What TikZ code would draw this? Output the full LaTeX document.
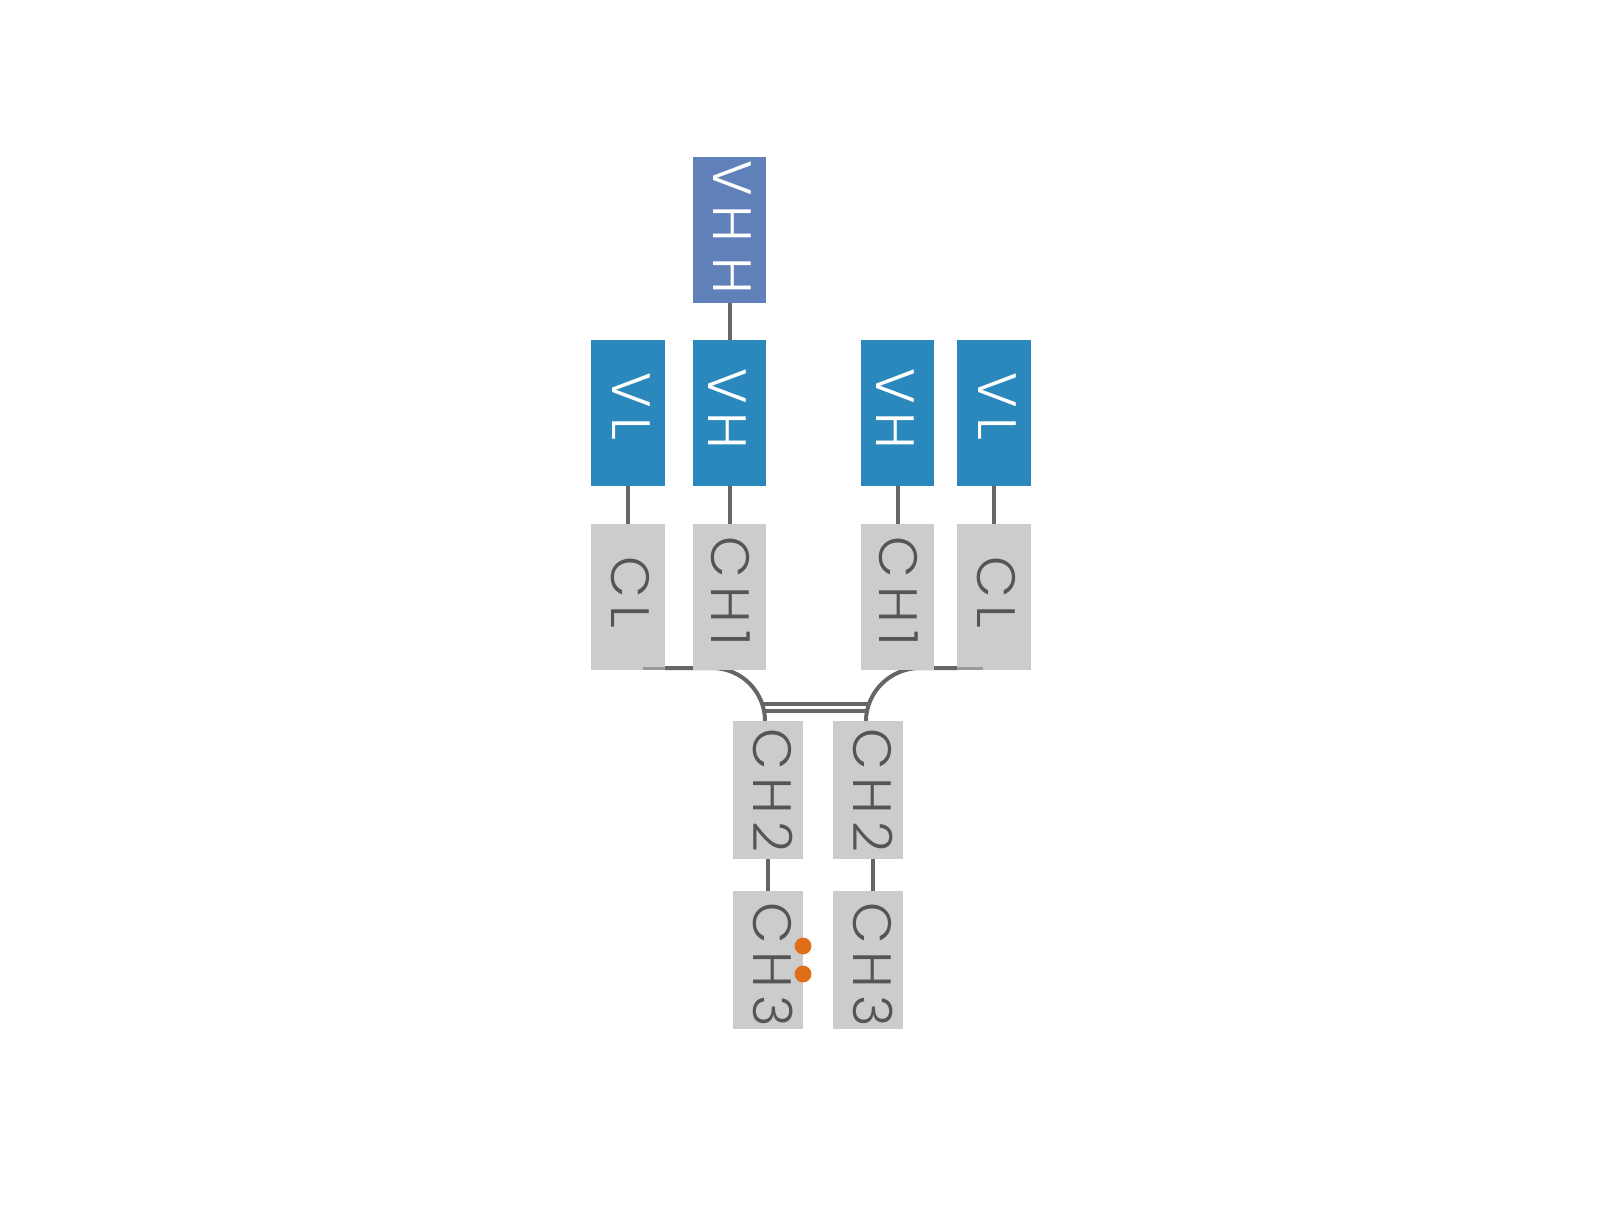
\documentclass[tikz,border=0pt]{standalone}
\usepackage{fontspec}
\newfontfamily\boxfont{Poppins Light}
\definecolor{vhhblue}{HTML}{5F80B8}
\definecolor{vblue}{HTML}{2A88BC}
\definecolor{cgray}{HTML}{CCCCCC}
\definecolor{tgray}{HTML}{555555}
\definecolor{lgray}{HTML}{666666}
\definecolor{llgray}{HTML}{9A9A9A}
\definecolor{dotor}{HTML}{E06E16}
\tikzset{
  bigbox/.style={inner sep=0pt, minimum width=74pt, minimum height=146pt},
  smallbox/.style={inner sep=0pt, minimum width=70pt, minimum height=138pt, fill=cgray},
  lbl/.style={inner sep=0pt, rotate=-90, font=\boxfont\fontsize{54}{54}\selectfont, text height=37pt, text depth=0pt},
  conn/.style={draw=lgray, line width=4pt},
  connlight/.style={draw=llgray, line width=3pt},
}
\newcommand{\lsp}{\kern 9pt}
\newcommand{\csp}{\kern 7.5pt}
\begin{document}
\begin{tikzpicture}[x=1pt,y=-1pt]
\useasboundingbox[fill=white] (0,0) rectangle (1622,1205);
% named points for the hinge
\coordinate (hL0) at (665,668);
\coordinate (hL1) at (712,668);
\coordinate (hR0) at (957,668);
\coordinate (hR1) at (920,668);
\coordinate (hL2) at (765,721);
\coordinate (hR2) at (866,721);
% hinge connections (behind boxes)
\draw[conn] (hL0) -- (hL1) .. controls (741.8,668) and (765,692.2) .. (hL2);
\draw[conn] (hR0) -- (hR1) .. controls (890.2,668) and (866,692.2) .. (hR2);
% boxes
\node[bigbox, fill=vhhblue, minimum width=73pt] (VHH) at (729.5,230) {};
\node[bigbox, fill=vblue] (VLL) at (628,413) {};
\node[bigbox, fill=vblue, minimum width=73pt] (VHL) at (729.5,413) {};
\node[bigbox, fill=vblue, minimum width=73pt] (VHR) at (897.5,413) {};
\node[bigbox, fill=vblue] (VLR) at (994,413) {};
\node[bigbox, fill=cgray] (CLL) at (628,597) {};
\node[bigbox, fill=cgray, minimum width=73pt] (CH1L) at (729.5,597) {};
\node[bigbox, fill=cgray, minimum width=73pt] (CH1R) at (897.5,597) {};
\node[bigbox, fill=cgray] (CLR) at (994,597) {};
\node[smallbox] (CH2L) at (768,790) {};
\node[smallbox] (CH2R) at (868,790) {};
\node[smallbox] (CH3L) at (768,960) {};
\node[smallbox] (CH3R) at (868,960) {};
% labels
\node[lbl, text=white] (tVHH) at (732,227.5) {V\lsp H\kern 16pt H};
\node[lbl, text=white] (tVLL) at (630.5,406.5) {V\lsp L};
\node[lbl, text=white] (tVHL) at (727,409) {V\lsp H};
\node[lbl, text=white] (tVHR) at (895,409) {V\lsp H};
\node[lbl, text=white] (tVLR) at (996.5,406.5) {V\lsp L};
\node[lbl, text=tgray] (tCLL) at (630,592.5) {C\csp L};
\node[lbl, text=tgray] (tCH1L) at (730,591.5) {C\csp H\csp 1};
\node[lbl, text=tgray] (tCH1R) at (898,591.5) {C\csp H\csp 1};
\node[lbl, text=tgray] (tCLR) at (996,592.5) {C\csp L};
\node[lbl, text=tgray] (tCH2L) at (772,790.5) {C\csp H\csp 2};
\node[lbl, text=tgray] (tCH2R) at (872,790.5) {C\csp H\csp 2};
\node[lbl, text=tgray] (tCH3L) at (772,965) {C\csp H\csp 3};
\node[lbl, text=tgray] (tCH3R) at (872,965) {C\csp H\csp 3};
% vertical connectors
\draw[conn] (VHH.south) -- (VHL.north);
\draw[conn] (VLL.south) -- (CLL.north);
\draw[conn] (VHL.south) -- (CH1L.north);
\draw[conn] (VHR.south) -- (CH1R.north);
\draw[conn] (VLR.south) -- (CLR.north);
\draw[conn] (CH2L.south) -- (CH3L.north);
\draw[conn] ([xshift=5pt]CH2R.south) -- ([xshift=5pt]CH3R.north);
% faint ends of the hinge line showing through the CL boxes
\draw[connlight] ([xshift=-22pt,yshift=2pt]CLL.south east) -- ([yshift=2pt]CLL.south east);
\draw[connlight] ([yshift=2pt]CLR.south west) -- ([xshift=26pt,yshift=2pt]CLR.south west);
% disulfide double line
\coordinate (dA1) at (763,704);
\coordinate (dB1) at (869,704);
\coordinate (dA2) at (765,711);
\coordinate (dB2) at (867,711);
\draw[conn] (dA1) -- (dB1);
\draw[conn] (dA2) -- (dB2);
% dots
\fill[dotor] (803,946) circle[radius=8.4pt];
\fill[dotor] (803,974) circle[radius=8.4pt];
\end{tikzpicture}
\end{document}
